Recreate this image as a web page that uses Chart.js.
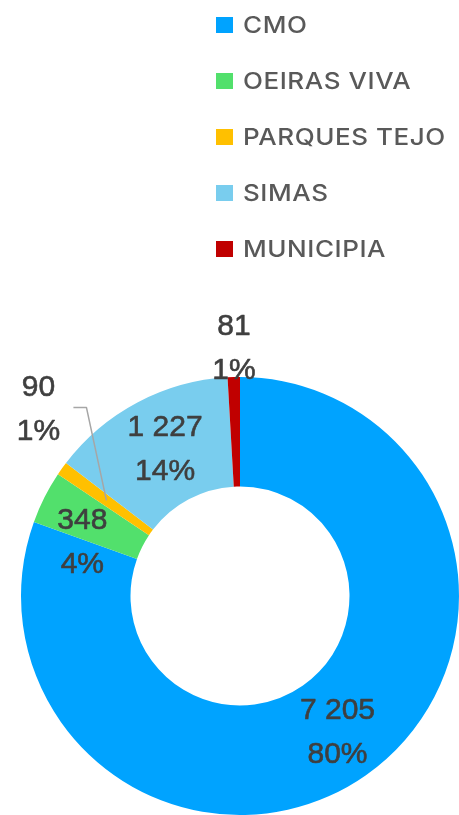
<!DOCTYPE html>
<html><head><meta charset="utf-8">
<script src="https://cdn.jsdelivr.net/npm/chart.js@4"></script>
<style>
html,body{margin:0;padding:0;background:#fff;width:459px;height:815px;overflow:hidden}
#wrap{position:relative;width:459px;height:815px}
canvas{position:absolute;left:0;top:0}
#legend{position:absolute;left:216px;top:0;font-family:Inter, "Open Sans", sans-serif;color:#595959;font-size:23px;font-weight:500;letter-spacing:0.5px}
.item{position:absolute;left:0;white-space:nowrap;display:flex;align-items:center;height:30px}
.sw{width:17px;height:16px;margin-right:10px;flex:none}
.tx{display:inline-block;transform:scaleX(1.13);transform-origin:0 50%}
</style></head>
<body><div id="wrap"><canvas id="c" width="459" height="815"></canvas><div id="legend"></div></div>
<script>
const categories = ['CMO', 'OEIRAS VIVA', 'PARQUES TEJO', 'SIMAS', 'MUNICIPIA'];
const values = [7205, 348, 90, 1227, 81];
const colors = ['#00a3ff', '#52e06c', '#ffc000', '#79cdee', '#c00000'];

function fmt(v){ return String(v).replace(/\B(?=(\d{3})+(?!\d))/g, ' '); }

// HTML legend
const legendEl = document.getElementById('legend');
const rowCenters = [25, 81, 137, 193, 249];
categories.forEach((c, i) => {
  const d = document.createElement('div');
  d.className = 'item';
  d.style.top = (rowCenters[i] - 15) + 'px';
  const s = document.createElement('span'); s.className = 'sw'; s.style.background = colors[i];
  const t = document.createElement('span'); t.className = 'tx'; t.textContent = c;
  d.appendChild(s); d.appendChild(t);
  legendEl.appendChild(d);
});

const labelPlugin = {
  id: 'sliceLabels',
  afterDatasetsDraw(chart, args, opts) {
    const ctx = chart.ctx;
    const meta = chart.getDatasetMeta(0);
    const total = values.reduce((a, b) => a + b, 0);
    ctx.save();
    ctx.font = '30px "Liberation Sans", Arial, sans-serif';
    ctx.fillStyle = '#3f3f3f';
    ctx.strokeStyle = '#3f3f3f';
    ctx.lineWidth = 0.6;
    ctx.lineJoin = 'round';
    ctx.textAlign = 'center';
    ctx.textBaseline = 'middle';
    meta.data.forEach((arc, i) => {
      const p = opts.place[i];
      const g = arc.getProps(['x', 'y', 'startAngle', 'endAngle', 'outerRadius', 'innerRadius'], true);
      const mid = (g.startAngle + g.endAngle) / 2;
      const rMid = (g.innerRadius + g.outerRadius) / 2;
      const r = p.out == null ? rMid : g.outerRadius + p.out;
      const ax = g.x + Math.cos(mid) * r, ay = g.y + Math.sin(mid) * r;
      const lx = ax + (p.dx || 0), ly = ay + (p.dy || 0);
      if (p.leader) {
        const bx = g.x + Math.cos(mid) * rMid, by = g.y + Math.sin(mid) * rMid;
        ctx.save();
        ctx.strokeStyle = '#a6a6a6'; ctx.lineWidth = 1.5;
        ctx.beginPath();
        ctx.moveTo(bx, by);
        ctx.lineTo(bx + p.leader[0][0], by + p.leader[0][1]);
        ctx.lineTo(bx + p.leader[1][0], by + p.leader[1][1]);
        ctx.stroke();
        ctx.restore();
      }
      const pct = Math.round(values[i] / total * 100) + '%';
      const lines = [fmt(values[i]), pct];
      lines.forEach((s, k) => {
        const yy = ly + (k === 0 ? -opts.gap / 2 : opts.gap / 2);
        ctx.fillText(s, lx, yy);
        ctx.strokeText(s, lx, yy);
      });
    });
    ctx.restore();
  }
};

new Chart(document.getElementById('c'), {
  type: 'doughnut',
  data: {
    labels: categories,
    datasets: [{ data: values, backgroundColor: colors, borderWidth: 0 }]
  },
  options: {
    responsive: false,
    maintainAspectRatio: false,
    animation: false,
    cutout: '50%',
    layout: { padding: { left: 21, top: 377, right: 0, bottom: 0 } },
    plugins: {
      legend: { display: false },
      tooltip: { enabled: false },
      sliceLabels: {
        gap: 44,
        place: [
          { dx: 3, dy: 2 },
          { dx: -11, dy: 21 },
          { dx: -68, dy: -91, leader: [[-20, -93], [-33, -93]] },
          { dx: 2, dy: -1 },
          { out: 29, dx: 1, dy: 1 }
        ]
      }
    }
  },
  plugins: [labelPlugin]
});
</script>
</body></html>
